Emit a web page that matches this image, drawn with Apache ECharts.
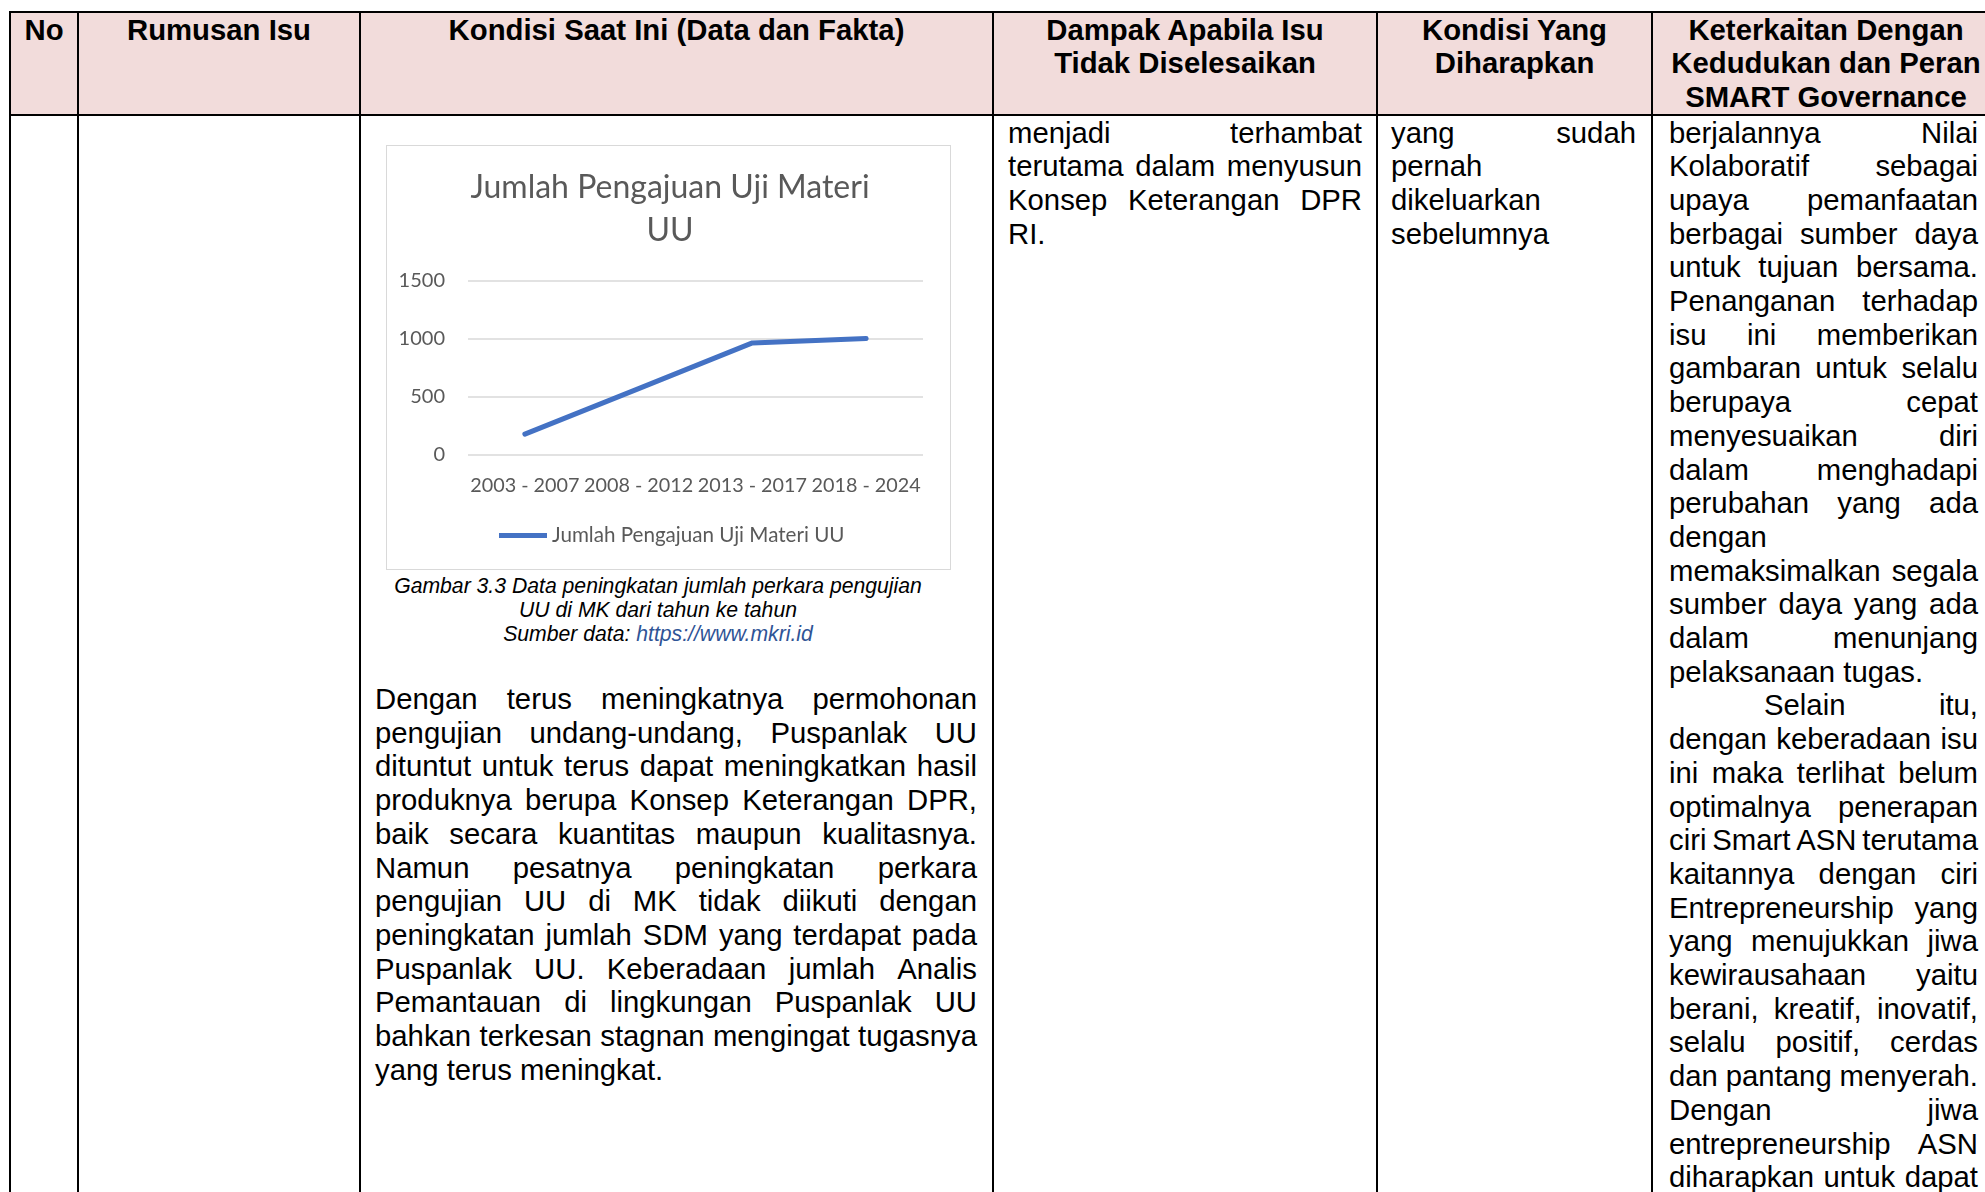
<!DOCTYPE html>
<html>
<head>
<meta charset="utf-8">
<script src="https://cdn.jsdelivr.net/npm/echarts@6/dist/echarts.min.js"></script>
<style>
html,body{margin:0;padding:0;background:#fff;}
body{width:1985px;height:1192px;overflow:hidden;position:relative;}
.blk{position:absolute;font-family:'Liberation Sans',Arial,Helvetica,sans-serif;color:#000;}
.ln{white-space:nowrap;}
.jl{display:flex;justify-content:space-between;white-space:nowrap;}
.vl{position:absolute;background:#000;width:2.6px;}
.hl{position:absolute;background:#000;height:2.6px;}
#chartBox{position:absolute;left:386px;top:145px;width:565px;height:425px;box-sizing:border-box;border:1.5px solid #d9d9d9;background:#fff;}
#chart{position:absolute;left:-1.5px;top:-1.5px;width:565px;height:425px;}
</style>
</head>
<body>
<div id="hdrbg" style="position:absolute;left:10px;top:12px;width:1990px;height:103px;background:#f2dcdb;"></div>
<div id="doc"></div>
<div id="chartBox"><div id="chart"></div></div>
<script>
// ---- chart data ----
const chartTitle = 'Jumlah Pengajuan Uji Materi\nUU';
const seriesName = 'Jumlah Pengajuan Uji Materi UU';
const categories = ['2003 - 2007', '2008 - 2012', '2013 - 2017', '2018 - 2024'];
const values = [180, 572, 966, 1005];
const yMin = 0, yMax = 1500, yStep = 500;

// ---- document text ----
const headerCells = [
  {x0: 10, x1: 78, lines: ['No']},
  {x0: 78, x1: 360, lines: ['Rumusan Isu']},
  {x0: 360, x1: 993, lines: ['Kondisi Saat Ini (Data dan Fakta)']},
  {x0: 993, x1: 1377, lines: ['Dampak Apabila Isu', 'Tidak Diselesaikan']},
  {x0: 1377, x1: 1652, lines: ['Kondisi Yang', 'Diharapkan']},
  {x0: 1652, x1: 2000, lines: ['Keterkaitan Dengan', 'Kedudukan dan Peran', 'SMART Governance']}
];
const dampakLines = [['menjadi terhambat', 'j'], ['terutama dalam menyusun', 'j'], ['Konsep Keterangan DPR', 'j'], ['RI.', 'l']];
const harapLines = [['yang sudah', 'j'], ['pernah', 'l'], ['dikeluarkan', 'l'], ['sebelumnya', 'l']];
const kaitLines = [
  ['berjalannya Nilai', 'j'], ['Kolaboratif sebagai', 'j'], ['upaya pemanfaatan', 'j'],
  ['berbagai sumber daya', 'j'], ['untuk tujuan bersama.', 'j'], ['Penanganan terhadap', 'j'],
  ['isu ini memberikan', 'j'], ['gambaran untuk selalu', 'j'], ['berupaya cepat', 'j'],
  ['menyesuaikan diri', 'j'], ['dalam menghadapi', 'j'], ['perubahan yang ada', 'j'],
  ['dengan', 'l'], ['memaksimalkan segala', 'j'], ['sumber daya yang ada', 'j'],
  ['dalam menunjang', 'j'], ['pelaksanaan tugas.', 'l'], ['Selain itu,', 'ji'],
  ['dengan keberadaan isu', 'j'], ['ini maka terlihat belum', 'j'], ['optimalnya penerapan', 'j'],
  ['ciri Smart ASN terutama', 'j'], ['kaitannya dengan ciri', 'j'], ['Entrepreneurship yang', 'j'],
  ['yang menujukkan jiwa', 'j'], ['kewirausahaan yaitu', 'j'], ['berani, kreatif, inovatif,', 'j'],
  ['selalu positif, cerdas', 'j'], ['dan pantang menyerah.', 'j'], ['Dengan jiwa', 'j'],
  ['entrepreneurship ASN', 'j'], ['diharapkan untuk dapat', 'j']
];
const paraLines = [
  ['Dengan terus meningkatnya permohonan', 'j'], ['pengujian undang-undang, Puspanlak UU', 'j'],
  ['dituntut untuk terus dapat meningkatkan hasil', 'j'], ['produknya berupa Konsep Keterangan DPR,', 'j'],
  ['baik secara kuantitas maupun kualitasnya.', 'j'], ['Namun pesatnya peningkatan perkara', 'j'],
  ['pengujian UU di MK tidak diikuti dengan', 'j'], ['peningkatan jumlah SDM yang terdapat pada', 'j'],
  ['Puspanlak UU. Keberadaan jumlah Analis', 'j'], ['Pemantauan di lingkungan Puspanlak UU', 'j'],
  ['bahkan terkesan stagnan mengingat tugasnya', 'j'], ['yang terus meningkat.', 'l']
];
const captionLines = ['Gambar 3.3 Data peningkatan jumlah perkara pengujian', 'UU di MK dari tahun ke tahun'];
const captionSrcLabel = 'Sumber data: ';
const captionSrcLink = 'https://www.mkri.id';

const doc = document.getElementById('doc');
const FS = 29.3, LH = 33.7;

function addBlock(x, top, w, lines, opts) {
  opts = opts || {};
  const b = document.createElement('div');
  b.className = 'blk';
  b.style.left = x + 'px'; b.style.top = top + 'px'; b.style.width = w + 'px';
  b.style.fontSize = (opts.fs || FS) + 'px';
  b.style.lineHeight = (opts.lh || LH) + 'px';
  if (opts.bold) b.style.fontWeight = 'bold';
  if (opts.italic) b.style.fontStyle = 'italic';
  lines.forEach(function (l) {
    const d = document.createElement('div');
    const txt = Array.isArray(l) ? l[0] : l;
    const mode = Array.isArray(l) ? l[1] : (opts.align || 'l');
    if (mode === 'j' || mode === 'ji') {
      d.className = 'jl';
      if (mode === 'ji') d.style.paddingLeft = '95px';
      const words = txt.split(' ');
      if (words.length === 1) d.style.justifyContent = 'flex-start';
      words.forEach(function (wd) { const s = document.createElement('span'); s.textContent = wd; d.appendChild(s); });
    } else {
      d.className = 'ln';
      d.style.textAlign = mode === 'c' ? 'center' : 'left';
      d.textContent = txt;
    }
    b.appendChild(d);
  });
  doc.appendChild(b);
  return b;
}

// header texts
headerCells.forEach(function (c) {
  addBlock(c.x0, 12.5, c.x1 - c.x0, c.lines, {bold: true, align: 'c'});
});
// body columns
addBlock(1008, 115.5, 354, dampakLines);
addBlock(1391, 115.5, 245, harapLines);
addBlock(1669, 115.5, 309, kaitLines);
addBlock(375, 682, 602, paraLines);
// caption
const cap = addBlock(308, 573.5, 700, captionLines, {fs: 21.2, lh: 24.4, italic: true, align: 'c'});
const srcLine = document.createElement('div');
srcLine.className = 'ln'; srcLine.style.textAlign = 'center';
const s1 = document.createElement('span'); s1.textContent = captionSrcLabel;
const s2 = document.createElement('span'); s2.textContent = captionSrcLink; s2.style.color = '#2f5496';
srcLine.appendChild(s1); srcLine.appendChild(s2);
cap.appendChild(srcLine);

// table rules
[10, 78, 360, 993, 1377, 1652].forEach(function (x) {
  const v = document.createElement('div'); v.className = 'vl';
  v.style.left = (x - 1.3) + 'px'; v.style.top = '10.7px'; v.style.height = '1190px';
  doc.appendChild(v);
});
[12, 115].forEach(function (y) {
  const h = document.createElement('div'); h.className = 'hl';
  h.style.left = '8.7px'; h.style.top = (y - 1.3) + 'px'; h.style.width = '2000px';
  doc.appendChild(h);
});

// ---- chart ----
const chart = echarts.init(document.getElementById('chart'), null, {renderer: 'canvas'});
const txtColor = '#595959';
const cFont = 'Lato, "Open Sans", sans-serif';
chart.setOption({
  animation: false,
  backgroundColor: 'transparent',
  title: {
    text: chartTitle, left: 284, top: 21, padding: 0,
    textAlign: 'center',
    textStyle: {fontFamily: cFont, fontWeight: 'normal', fontSize: 32, lineHeight: 43, color: txtColor}
  },
  grid: {left: 82, right: 28, top: 136, bottom: 115, containLabel: false},
  legend: {
    data: [seriesName], left: 113, top: 380, icon: 'rect', itemWidth: 48, itemHeight: 5, padding: 0,
    textStyle: {fontFamily: cFont, fontSize: 20.6, color: txtColor}
  },
  xAxis: {
    type: 'category', data: categories, boundaryGap: true,
    axisLine: {show: false}, axisTick: {show: false},
    axisLabel: {interval: 0, margin: 21, fontFamily: cFont, fontSize: 19.8, color: txtColor}
  },
  yAxis: {
    type: 'value', min: yMin, max: yMax, interval: yStep,
    axisLine: {show: false}, axisTick: {show: false},
    axisLabel: {margin: 23, fontFamily: cFont, fontSize: 20, color: txtColor, formatter: function (v) { return String(v); }},
    splitLine: {lineStyle: {color: '#d9d9d9', width: 1.5}}
  },
  series: [{
    name: seriesName, type: 'line', data: values, symbol: 'none', silent: true,
    lineStyle: {width: 5, color: '#4472C4', cap: 'round', join: 'round'},
    itemStyle: {color: '#4472C4'}
  }]
});
</script>
</body>
</html>
